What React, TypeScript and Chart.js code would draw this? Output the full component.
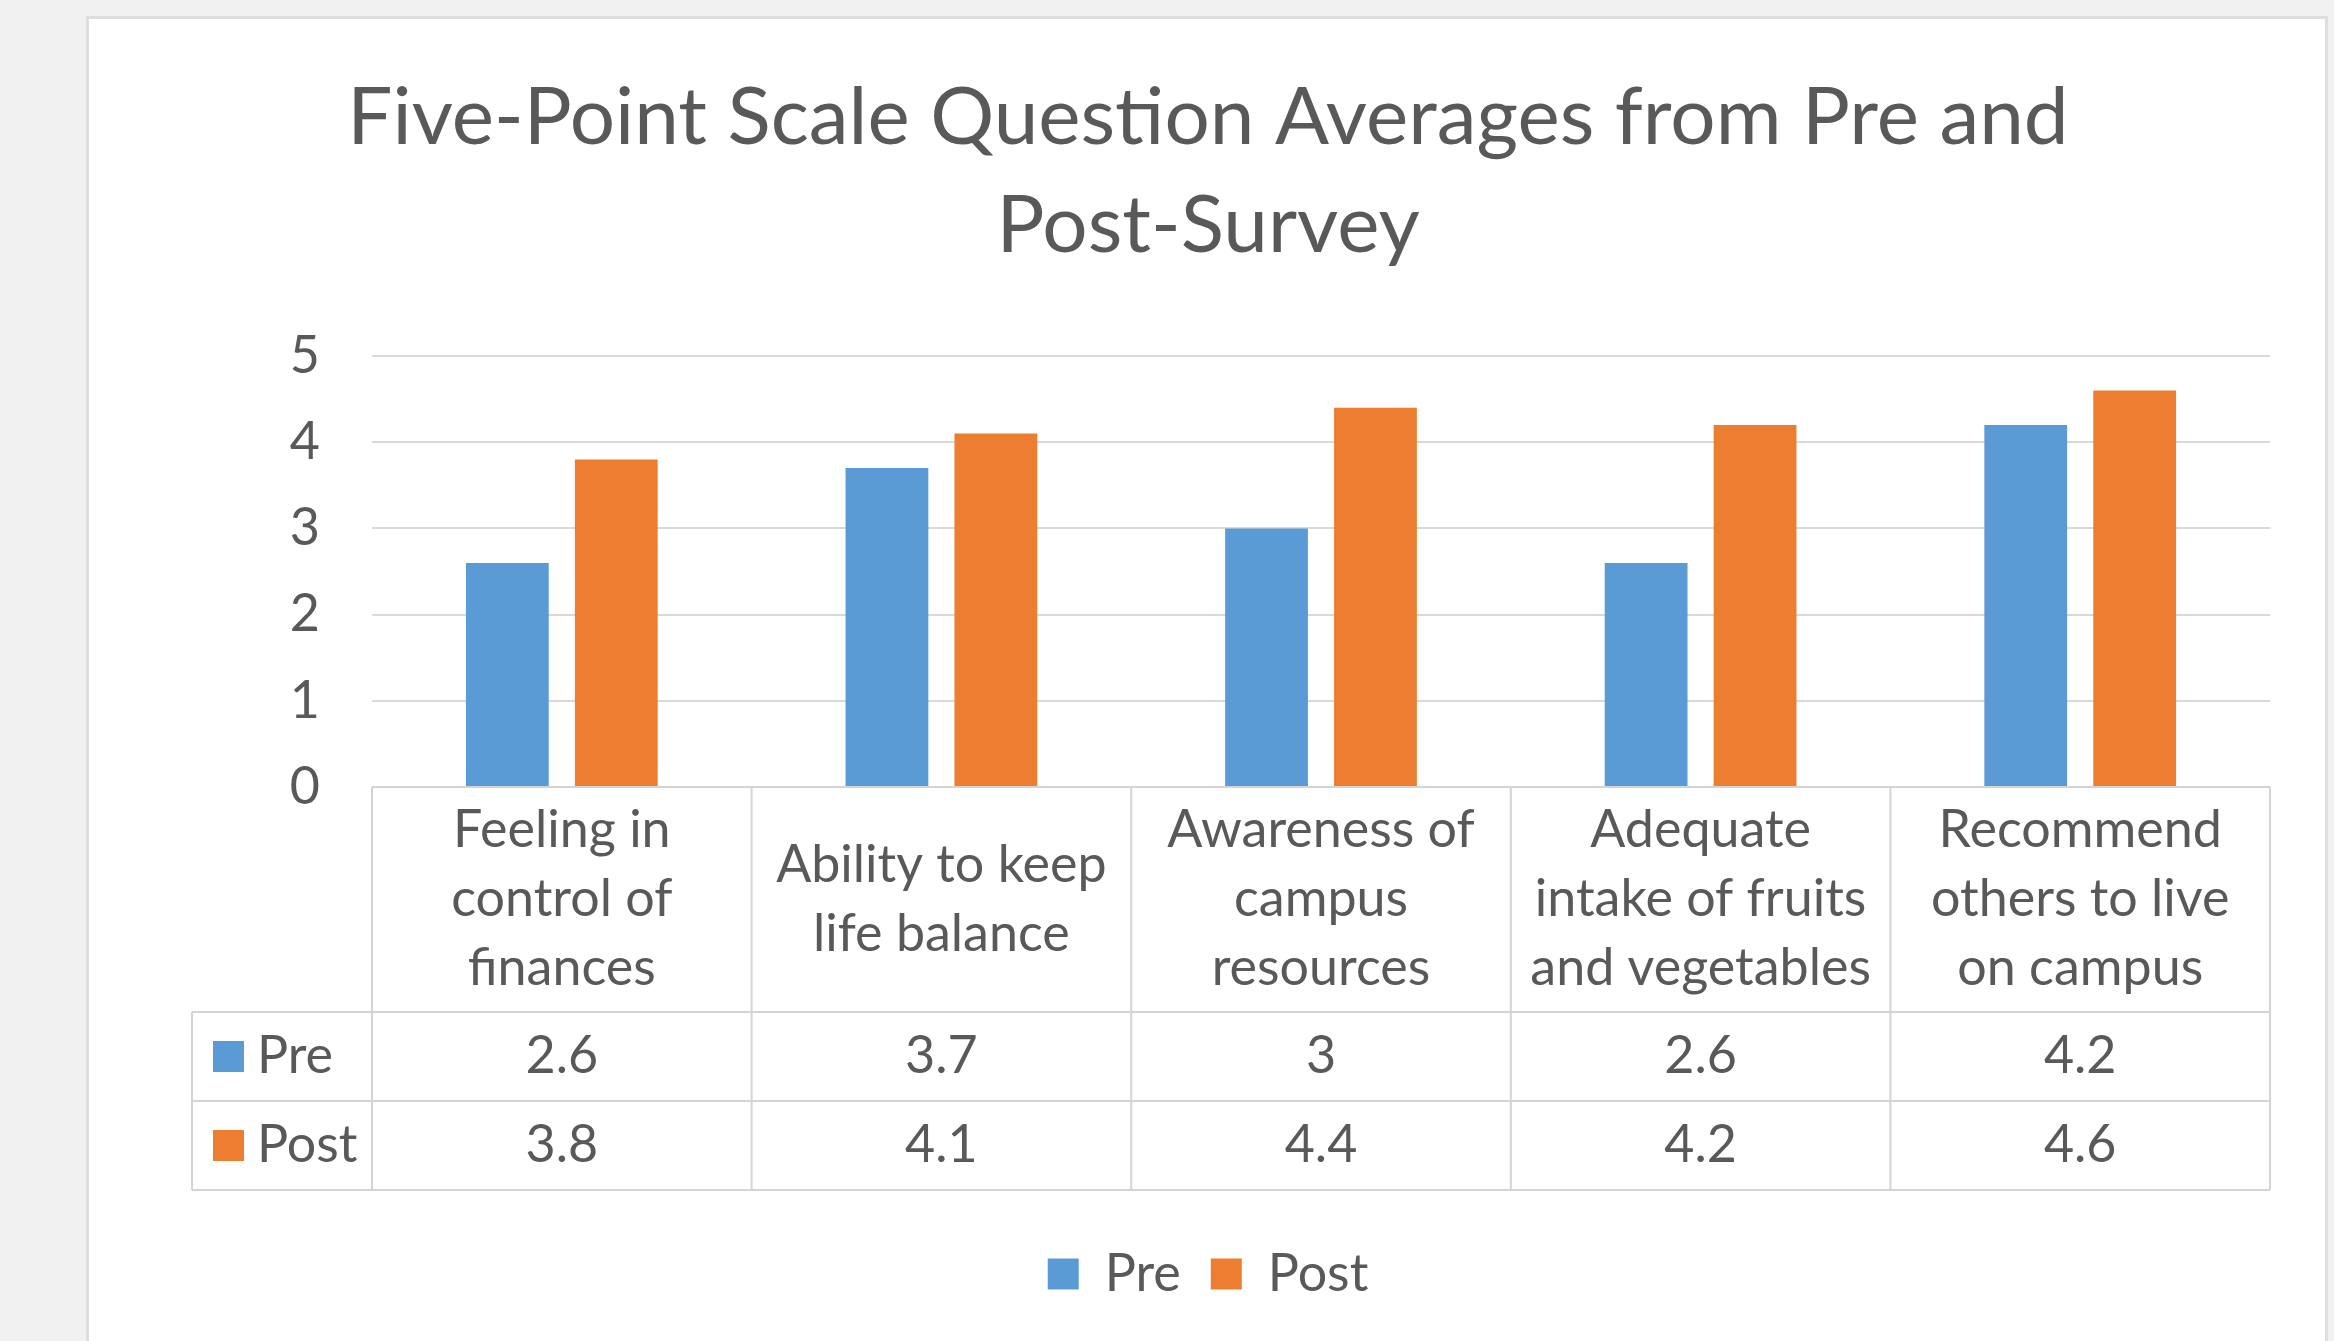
import React, { useEffect, useRef } from "react";
import { Chart, registerables } from "chart.js";

Chart.register(...registerables);

// ---- data ----
const TITLE_LINES = ["Five-Point Scale Question Averages from Pre and", "Post-Survey"];
const CATEGORY_LINES: string[][] = [
  ["Feeling in", "control of", "finances"],
  ["Ability to keep", "life balance"],
  ["Awareness of", "campus", "resources"],
  ["Adequate", "intake of fruits", "and vegetables"],
  ["Recommend", "others to live", "on campus"],
];
const SERIES_NAMES = ["Pre", "Post"];
const PRE_VALUES = [2.6, 3.7, 3, 2.6, 4.2];
const POST_VALUES = [3.8, 4.1, 4.4, 4.2, 4.6];
const Y_MIN = 0;
const Y_MAX = 5;
const Y_STEP = 1;

const COLORS = ["#5b9bd5", "#ed7d31"];
const TEXT = "#595959";
const FONT = "Lato";

const tablePlugin = {
  id: "dataTable",
  afterDraw(chart: any) {
    const { ctx, chartArea, scales } = chart;
    const x = scales.x;
    const n = CATEGORY_LINES.length;
    const top = chartArea.bottom;
    const headerH = 225;
    const rowH = 89;
    const labelColLeft = 192;
    const colW = (x.right - x.left) / n;
    const seriesValues = [PRE_VALUES, POST_VALUES];

    ctx.save();
    ctx.strokeStyle = "#d4d4d4";
    ctx.lineWidth = 2;
    ctx.beginPath();
    ctx.moveTo(x.left, top);
    ctx.lineTo(x.right, top);
    for (let r = 0; r <= 2; r++) {
      const y = top + headerH + r * rowH;
      ctx.moveTo(labelColLeft, y);
      ctx.lineTo(x.right, y);
    }
    for (let i = 0; i <= n; i++) {
      const xx = x.left + i * colW;
      ctx.moveTo(xx, top);
      ctx.lineTo(xx, top + headerH + 2 * rowH);
    }
    ctx.moveTo(labelColLeft, top + headerH);
    ctx.lineTo(labelColLeft, top + headerH + 2 * rowH);
    ctx.stroke();

    ctx.fillStyle = TEXT;
    ctx.font = `52px ${FONT}`;
    ctx.textAlign = "center";
    ctx.textBaseline = "middle";
    const lineGap = 69;
    CATEGORY_LINES.forEach((lines, i) => {
      const cx = x.getPixelForValue(i);
      const cy = top + headerH / 2;
      lines.forEach((ln, k) => {
        const y = cy + (k - (lines.length - 1) / 2) * lineGap;
        ctx.fillText(ln, cx, y);
      });
    });

    seriesValues.forEach((vals, s) => {
      const cy = top + headerH + s * rowH + rowH / 2;
      vals.forEach((v, i) => {
        ctx.fillText(String(v), x.getPixelForValue(i), cy);
      });
      // row label with colour key
      ctx.fillStyle = COLORS[s];
      ctx.fillRect(labelColLeft + 21, cy - 15.5, 31, 31);
      ctx.fillStyle = TEXT;
      ctx.textAlign = "left";
      ctx.fillText(SERIES_NAMES[s], labelColLeft + 65, cy);
      ctx.textAlign = "center";
    });
    ctx.restore();
  },
};

export default function App() {
  const ref = useRef<HTMLCanvasElement>(null);

  useEffect(() => {
    document.body.style.margin = "0";
    const canvas = ref.current!;
    const chart = new Chart(canvas, {
      type: "bar",
      data: {
        labels: CATEGORY_LINES.map((l) => l.join(" ")),
        datasets: [
          {
            label: SERIES_NAMES[0],
            data: PRE_VALUES,
            backgroundColor: COLORS[0],
            borderWidth: 0,
            categoryPercentage: 0.574,
            barPercentage: 0.76,
          },
          {
            label: SERIES_NAMES[1],
            data: POST_VALUES,
            backgroundColor: COLORS[1],
            borderWidth: 0,
            categoryPercentage: 0.574,
            barPercentage: 0.76,
          },
        ],
      },
      options: {
        responsive: false,
        animation: false,
        devicePixelRatio: 1,
        layout: { padding: { left: 146, right: 64, top: 0, bottom: 31 } },
        plugins: {
          title: {
            display: true,
            text: TITLE_LINES,
            color: TEXT,
            font: { family: FONT, size: 80, weight: "normal", lineHeight: 1.35 },
            padding: { top: 64, bottom: 76 },
          },
          legend: {
            display: true,
            position: "bottom",
            labels: {
              color: TEXT,
              font: { family: FONT, size: 52 },
              boxWidth: 31,
              boxHeight: 31,
              padding: 30,
            },
          },
          tooltip: { enabled: false },
        },
        scales: {
          x: {
            grid: { display: false },
            border: { display: false },
            ticks: { display: false },
            afterFit(scale: any) {
              scale.height = 431;
            },
          },
          y: {
            min: Y_MIN,
            max: Y_MAX,
            ticks: {
              stepSize: Y_STEP,
              color: TEXT,
              font: { family: FONT, size: 52 },
              padding: 52,
            },
            grid: { color: "#d9d9d9", lineWidth: 2, drawTicks: false },
            border: { display: false },
            afterFit(scale: any) {
              scale.width = 226;
            },
          },
        },
      },
      plugins: [tablePlugin],
    });
    return () => chart.destroy();
  }, []);

  return (
    <div style={{ position: "fixed", inset: 0, background: "#f0f0f0", overflow: "hidden" }}>
      <div
        style={{
          position: "absolute",
          left: 86,
          top: 16,
          width: 2242,
          height: 1340,
          background: "#ffffff",
          border: "3px solid #dedede",
          boxSizing: "border-box",
        }}
      />
      <canvas
        ref={ref}
        width={2334}
        height={1341}
        style={{ position: "absolute", left: 0, top: 0, width: 2334, height: 1341 }}
      />
    </div>
  );
}
